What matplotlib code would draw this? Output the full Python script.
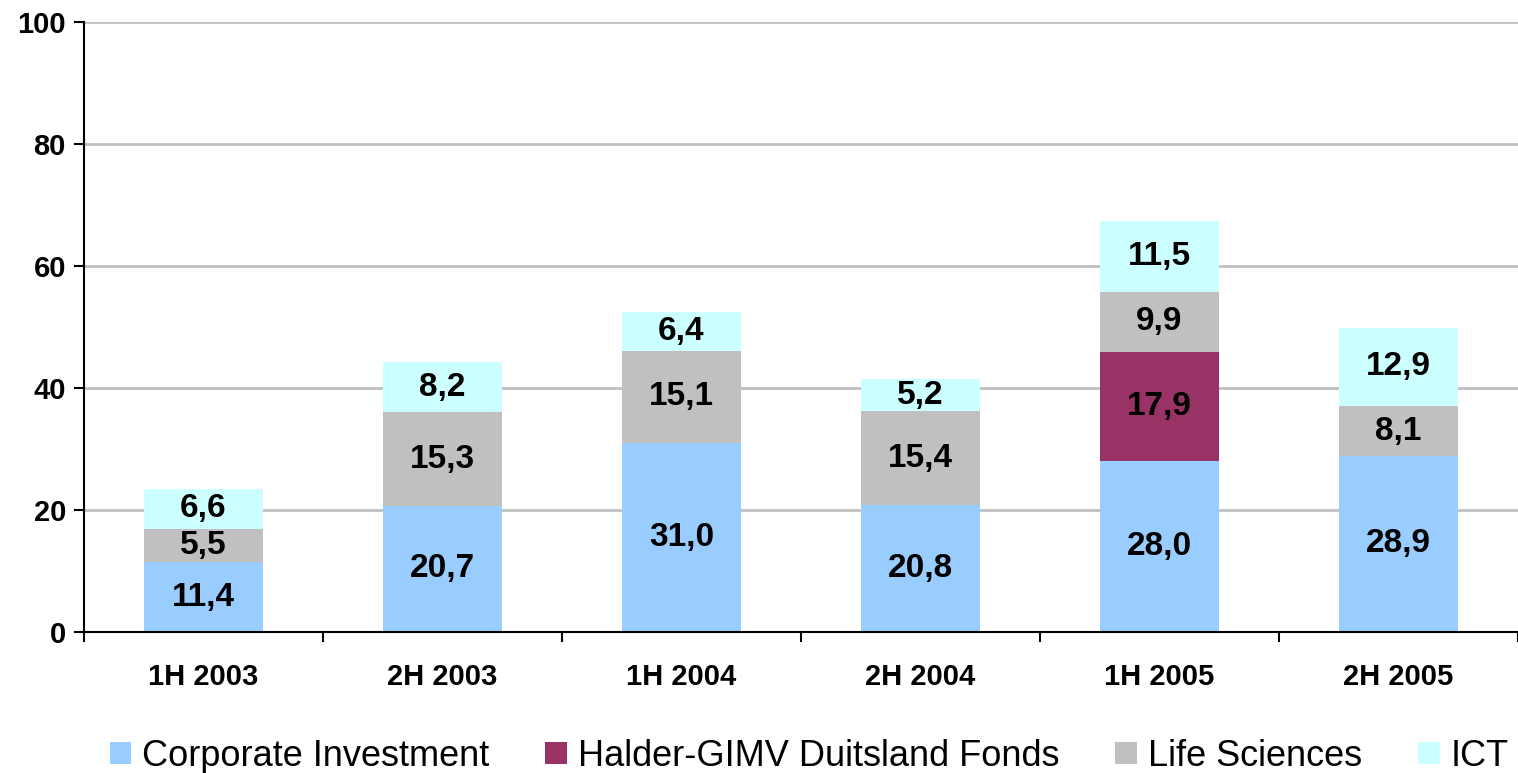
import numpy as np
import matplotlib.pyplot as plt

plt.rcParams['font.family'] = ['Liberation Sans', 'DejaVu Sans']

# DATA
periods = ['1H 2003', '2H 2003', '1H 2004', '2H 2004', '1H 2005', '2H 2005']
corporate = [11.4, 20.7, 31.0, 20.8, 28.0, 28.9]
halder = [0, 0, 0, 0, 17.9, 0]
life_sciences = [5.5, 15.3, 15.1, 15.4, 9.9, 8.1]
ict = [6.6, 8.2, 6.4, 5.2, 11.5, 12.9]

series = [
    ('Corporate Investment', corporate, '#99CCFF'),
    ('Halder-GIMV Duitsland Fonds', halder, '#993366'),
    ('Life Sciences', life_sciences, '#C0C0C0'),
    ('ICT', ict, '#CCFFFF'),
]

fig = plt.figure(figsize=(15.18, 7.73), dpi=100)
ax = fig.add_axes([0.0553, 0.1824, 0.9447, 0.7891])

x = np.arange(len(periods))
bottom = np.zeros(len(periods))
for name, vals, color in series:
    vals = np.array(vals, dtype=float)
    bars = ax.bar(x, vals, 0.5, bottom=bottom, color=color, label=name, zorder=2)
    for b, v, y0 in zip(bars, vals, bottom):
        if v > 0:
            ax.text(b.get_x() + b.get_width() / 2, y0 + v / 2,
                    f'{v:.1f}'.replace('.', ','), ha='center', va='center',
                    fontsize=24, fontweight='bold', zorder=3)
    bottom += vals

ax.set_xlim(-0.5, len(periods) - 0.5)
ax.set_ylim(0, 100)
ax.set_yticks(range(0, 101, 20))
ax.yaxis.grid(True, color='#C0C0C0', linewidth=2, zorder=0)
ax.set_axisbelow(True)

ax.set_xticks(x)
ax.set_xticklabels(periods, fontsize=21, fontweight='bold')
ax.set_xticks(np.arange(-0.5, len(periods), 1), minor=True)
ax.tick_params(axis='x', which='major', length=0, pad=22)
ax.tick_params(axis='x', which='minor', length=7, width=1.5, direction='out')
ax.tick_params(axis='y', length=7, width=1.5, direction='out', labelsize=21, pad=6)
for lbl in ax.get_yticklabels():
    lbl.set_fontweight('bold')

for s in ['top', 'right']:
    ax.spines[s].set_visible(False)
for s in ['left', 'bottom']:
    ax.spines[s].set_linewidth(1.5)

fig.legend(loc='lower center', bbox_to_anchor=(0.533, -0.043), ncol=4, frameon=False,
           fontsize=26, handlelength=0.6, handleheight=0.6, handletextpad=0.3,
           columnspacing=1.55)

fig.savefig('out.png', dpi=100)
